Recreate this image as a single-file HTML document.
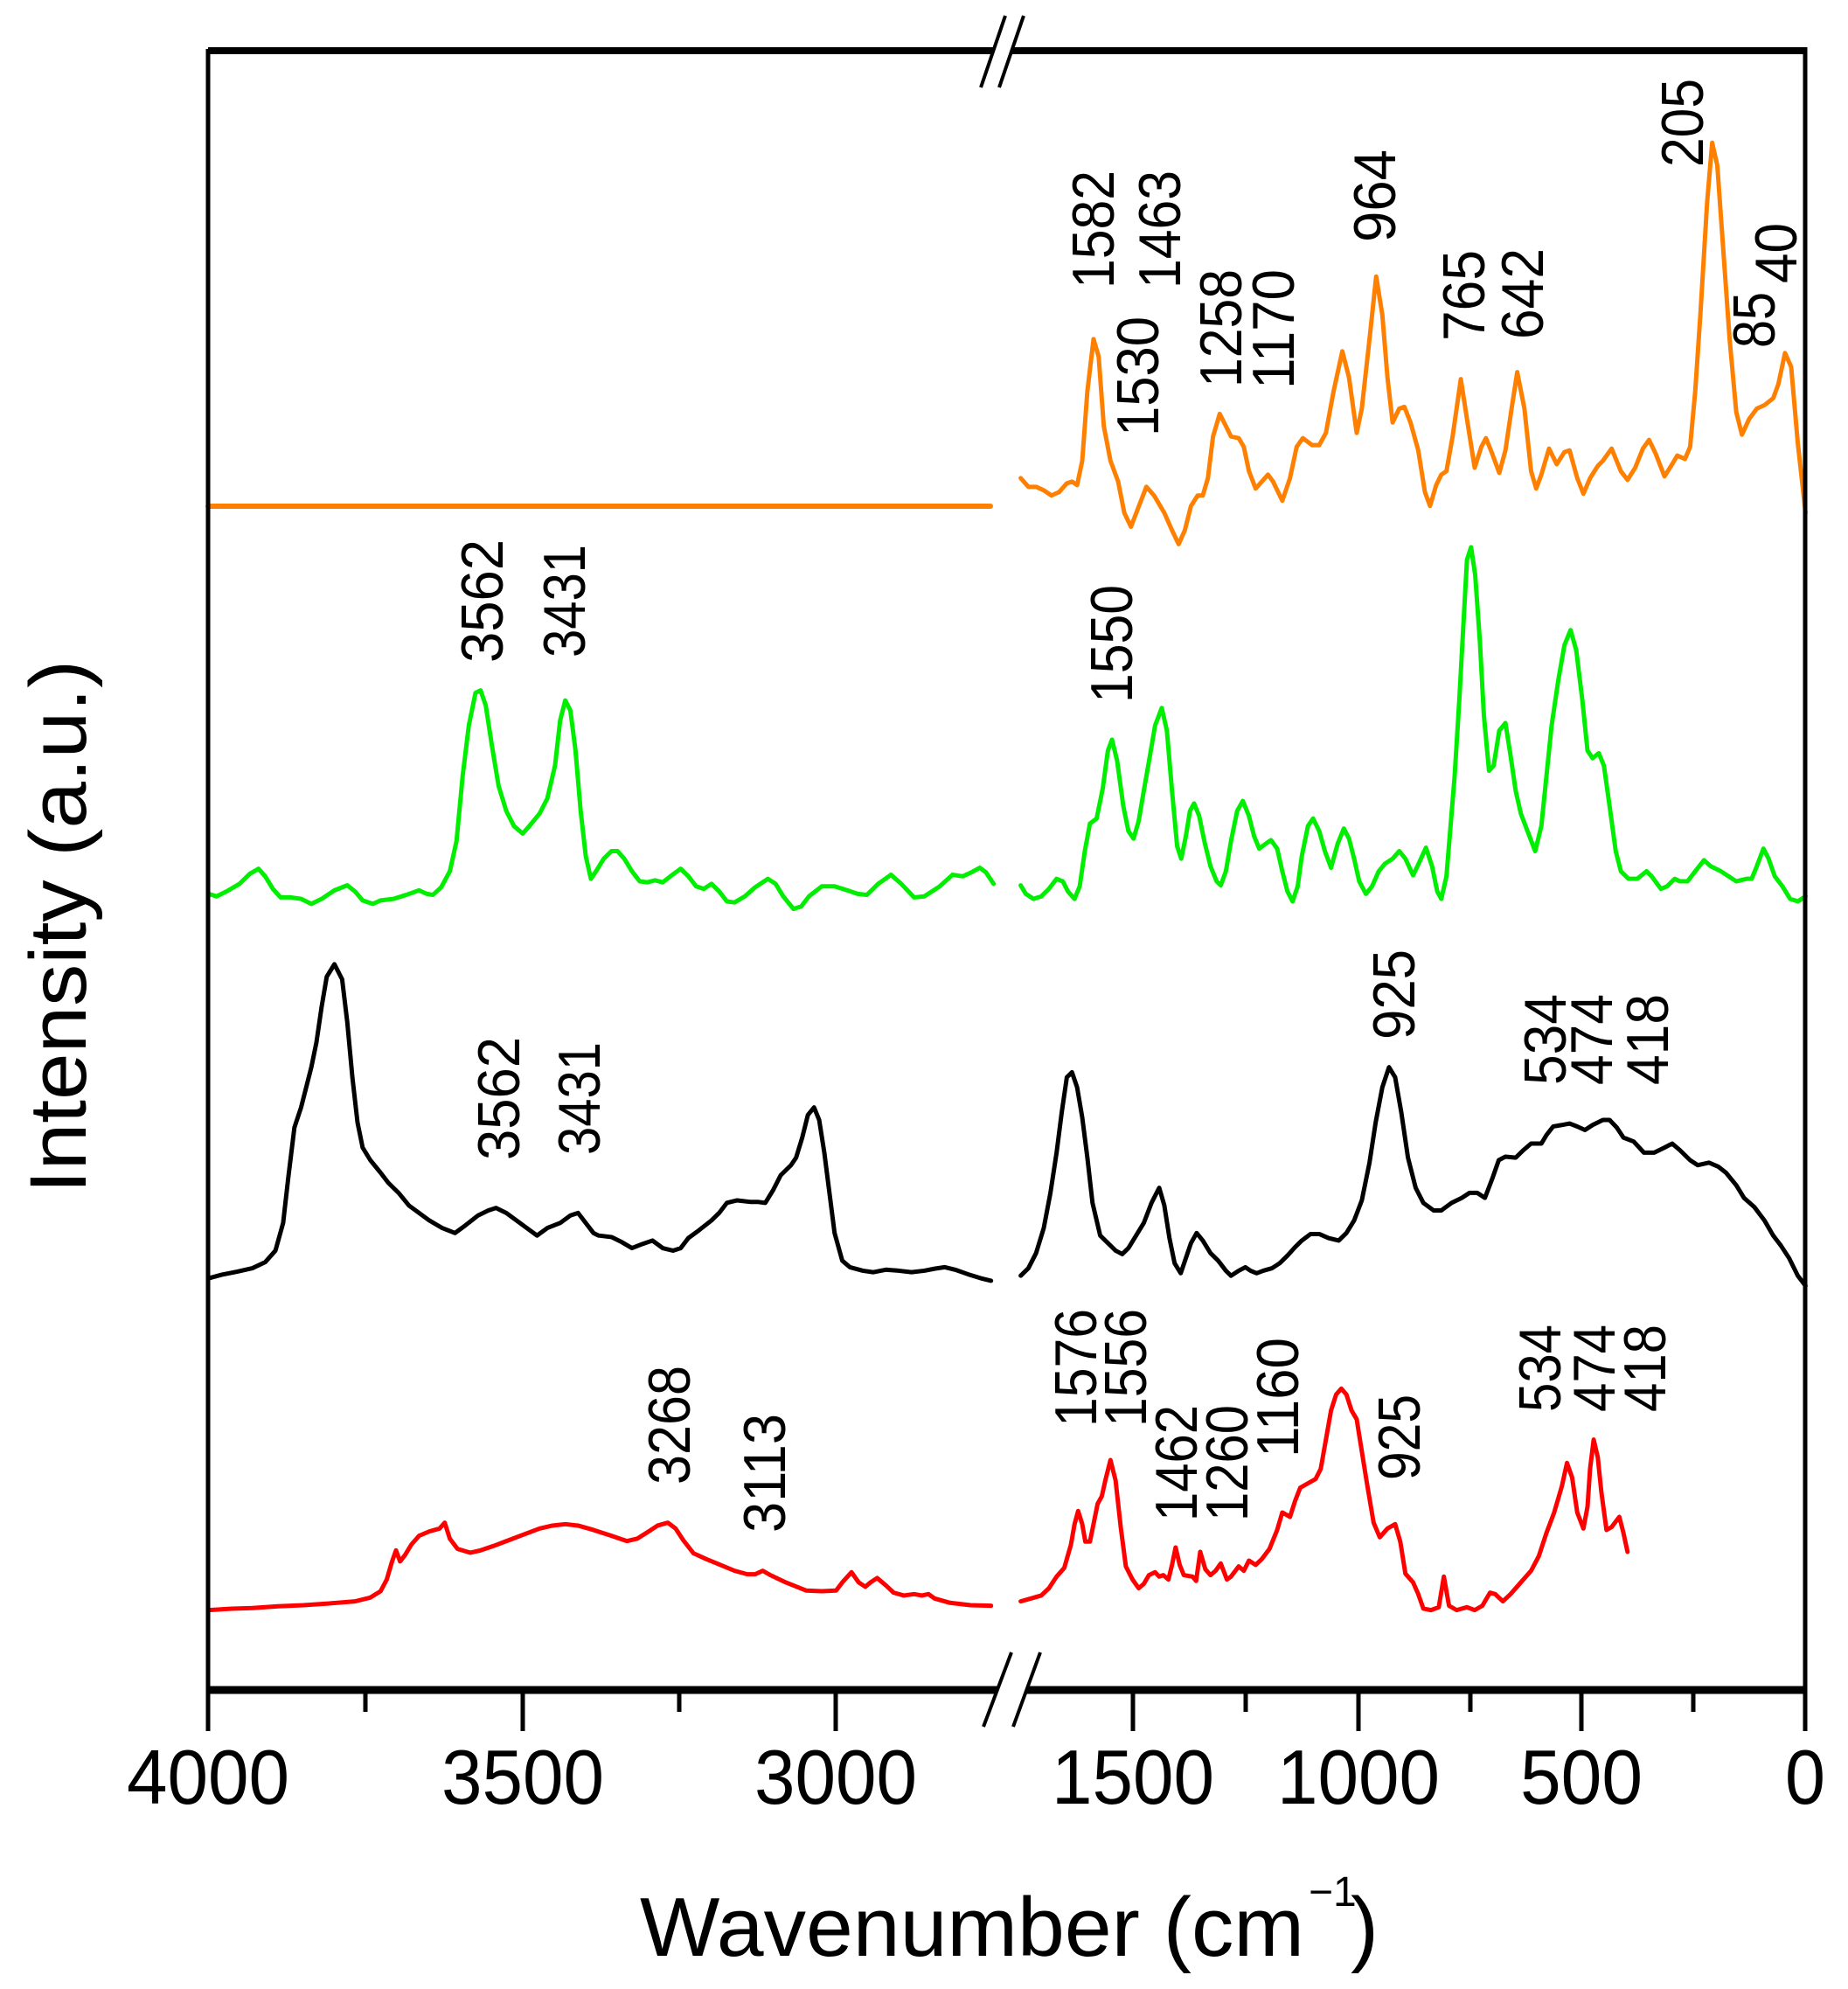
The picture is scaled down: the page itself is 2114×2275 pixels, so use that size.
<!DOCTYPE html>
<html><head><meta charset="utf-8"><style>
html,body{margin:0;padding:0;background:#fff;}
svg{display:block;}
text{font-family:"Liberation Sans",sans-serif;fill:#000;}
</style></head><body>
<svg width="2114" height="2275" viewBox="0 0 2114 2275" xmlns="http://www.w3.org/2000/svg">
<g fill="none" stroke-linejoin="round" stroke-linecap="round">
<!-- orange -->
<line x1="238" y1="579" x2="1133" y2="579" stroke="#ff8000" stroke-width="6"/>
<g transform="translate(1150,50) scale(0.5868,0.3975)">
<polyline vector-effect="non-scaling-stroke" stroke="#ff8000" stroke-width="5" points="30,1250 45,1275 60,1275 75,1285 90,1300 105,1290 120,1265 130,1260 140,1270 150,1200 160,1000 172,850 182,900 192,1100 205,1200 220,1260 232,1350 245,1390 258,1340 275,1275 290,1300 310,1350 325,1400 338,1440 350,1400 362,1330 375,1300 385,1300 395,1250 405,1130 418,1065 430,1100 440,1130 455,1135 465,1160 475,1230 488,1280 500,1260 512,1240 522,1260 540,1315 555,1250 568,1160 580,1135 598,1155 612,1155 625,1120 640,1000 657,885 670,960 685,1120 695,1050 710,850 723,670 735,780 745,960 755,1090 768,1050 778,1045 790,1090 805,1170 818,1290 828,1330 840,1270 850,1240 860,1230 872,1130 888,965 900,1080 915,1220 928,1160 937,1135 948,1175 963,1235 975,1170 987,1050 998,945 1012,1050 1025,1230 1035,1280 1045,1240 1060,1165 1075,1210 1090,1175 1100,1170 1115,1250 1127,1295 1140,1250 1155,1215 1165,1200 1182,1165 1200,1230 1213,1255 1228,1220 1243,1165 1255,1140 1268,1180 1285,1245 1300,1210 1310,1185 1325,1195 1335,1160 1345,1000 1355,780 1368,460 1378,285 1388,350 1400,600 1412,850 1425,1060 1436,1125 1450,1080 1465,1050 1480,1040 1497,1020 1507,980 1520,890 1532,930 1545,1150 1560,1350"/>
</g>
<g transform="translate(230,600) scale(0.5868,0.5747)">
<polyline vector-effect="non-scaling-stroke" stroke="#00ee00" stroke-width="5" points="15,735 30,740 50,730 75,715 95,695 112,685 125,700 140,725 155,742 175,742 195,745 215,755 235,745 260,728 285,718 300,730 315,748 335,755 350,748 375,745 400,737 425,728 440,735 452,737 468,722 485,690 498,630 510,500 522,400 535,335 545,330 555,360 567,440 580,520 595,570 610,600 627,615 640,600 660,575 675,545 690,480 700,390 710,350 720,370 730,450 740,570 750,660 760,705 770,690 785,665 800,650 812,650 825,665 840,690 855,710 870,712 885,708 900,712 915,700 935,685 950,700 965,720 980,725 995,715 1010,730 1025,750 1040,752 1060,740 1080,722 1105,705 1120,715 1135,740 1155,765 1170,760 1185,740 1210,720 1235,720 1260,728 1280,735 1298,737 1320,715 1345,697 1365,715 1390,742 1410,740 1440,720 1465,697 1485,700 1500,693 1518,683 1530,692 1545,715"/>
<polyline vector-effect="non-scaling-stroke" stroke="#000" stroke-width="5" points="15,1500 40,1493 70,1487 100,1480 125,1468 145,1445 160,1390 170,1300 182,1200 195,1160 205,1120 215,1080 225,1030 235,960 245,900 260,875 275,905 285,990 295,1100 305,1190 315,1240 330,1265 350,1290 365,1310 385,1330 405,1355 425,1370 445,1385 470,1400 495,1410 515,1395 540,1375 560,1365 575,1360 595,1370 615,1385 635,1400 655,1415 675,1400 700,1390 720,1375 735,1370 750,1390 765,1410 775,1415 800,1418 820,1428 840,1440 860,1432 880,1425 900,1440 920,1445 935,1440 950,1420 970,1405 995,1385 1010,1370 1025,1350 1045,1345 1070,1348 1085,1348 1100,1350 1115,1325 1130,1295 1150,1275 1160,1260 1172,1220 1183,1175 1195,1160 1205,1185 1215,1250 1225,1330 1235,1410 1250,1465 1265,1478 1290,1485 1310,1488 1335,1483 1360,1485 1385,1488 1410,1485 1430,1481 1450,1478 1470,1483 1495,1492 1520,1500 1540,1505"/>
</g>
<g transform="translate(1150,600) scale(0.5868,0.5747)">
<polyline vector-effect="non-scaling-stroke" stroke="#00ee00" stroke-width="5" points="30,718 40,735 55,745 70,740 85,725 100,705 112,710 122,730 135,745 145,720 155,650 165,595 178,585 190,525 200,450 208,428 218,470 230,560 240,610 250,625 260,590 270,530 282,460 292,400 305,365 315,410 325,530 335,640 343,665 352,620 360,570 368,555 378,580 388,630 400,680 412,710 420,718 430,690 440,630 452,570 463,550 475,580 485,620 495,645 508,635 518,628 530,645 540,690 550,730 560,750 570,720 578,660 590,600 600,585 612,610 623,650 635,683 648,635 660,605 670,625 680,665 690,710 703,735 715,720 728,690 740,675 755,665 768,650 780,665 795,698 808,670 820,643 832,680 842,730 850,745 860,700 868,600 876,500 885,350 893,200 900,70 908,45 916,100 925,230 933,380 943,490 952,480 963,410 975,395 985,460 995,530 1005,575 1018,610 1033,650 1045,600 1055,500 1065,400 1078,310 1090,240 1102,210 1113,250 1125,350 1135,450 1145,465 1157,455 1167,480 1178,560 1190,650 1200,690 1215,705 1232,705 1250,690 1260,700 1278,725 1290,720 1305,705 1315,710 1330,710 1345,690 1362,668 1375,680 1395,690 1410,700 1425,710 1445,705 1455,705 1465,680 1478,645 1488,665 1500,700 1515,720 1530,745 1545,750 1560,740"/>
<polyline vector-effect="non-scaling-stroke" stroke="#000" stroke-width="5" points="30,1495 45,1480 60,1450 75,1400 88,1330 100,1250 110,1170 120,1100 130,1090 140,1120 150,1180 160,1260 170,1350 185,1415 200,1430 215,1445 228,1452 240,1440 255,1415 270,1390 285,1350 300,1320 310,1355 320,1420 330,1470 342,1490 352,1460 362,1430 373,1410 385,1425 400,1450 415,1465 430,1485 440,1495 455,1485 468,1478 478,1485 490,1490 503,1485 520,1480 535,1470 550,1455 565,1438 578,1425 595,1412 612,1412 630,1420 650,1425 665,1410 680,1385 695,1345 710,1270 722,1190 735,1120 748,1080 760,1100 772,1170 785,1260 800,1320 815,1350 835,1365 850,1365 870,1350 890,1340 905,1330 920,1330 935,1340 950,1300 962,1265 975,1258 995,1260 1010,1245 1025,1232 1045,1232 1055,1215 1068,1198 1085,1195 1100,1192 1115,1198 1130,1205 1145,1195 1165,1185 1178,1185 1192,1200 1205,1220 1225,1228 1245,1250 1265,1250 1285,1240 1300,1232 1315,1245 1335,1265 1350,1275 1372,1270 1390,1278 1405,1290 1425,1315 1440,1340 1460,1358 1480,1385 1497,1415 1512,1435 1528,1460 1545,1495 1560,1515"/>
</g>
<g transform="translate(230,1380) scale(0.5868,0.3333)">
<polyline vector-effect="non-scaling-stroke" stroke="#ff0000" stroke-width="5" points="15,1385 60,1380 100,1378 150,1372 200,1368 250,1362 300,1355 330,1342 350,1320 362,1280 372,1220 380,1180 388,1218 398,1195 410,1160 425,1130 445,1115 465,1105 475,1085 485,1140 500,1175 525,1188 545,1180 570,1165 600,1145 630,1125 660,1105 685,1095 710,1090 735,1095 765,1110 800,1130 830,1148 850,1140 870,1118 890,1095 910,1085 925,1105 940,1145 960,1190 985,1210 1010,1228 1040,1250 1065,1262 1080,1262 1095,1250 1110,1265 1140,1290 1180,1318 1210,1320 1238,1318 1250,1290 1268,1255 1282,1290 1295,1305 1305,1290 1318,1275 1335,1300 1350,1325 1370,1335 1390,1330 1405,1335 1418,1330 1430,1345 1460,1360 1500,1368 1540,1370"/>
</g>
<g transform="translate(1150,1380) scale(0.5868,0.3333)">
<polyline vector-effect="non-scaling-stroke" stroke="#ff0000" stroke-width="5" points="30,1355 50,1345 70,1335 85,1310 100,1270 115,1240 128,1160 135,1090 142,1045 150,1090 156,1150 165,1150 172,1090 180,1020 188,995 195,940 205,870 215,940 225,1100 235,1235 248,1280 260,1310 270,1295 280,1265 292,1255 300,1270 308,1265 318,1280 325,1230 332,1170 340,1230 348,1265 365,1270 372,1285 380,1185 390,1245 400,1265 410,1250 420,1225 432,1280 440,1270 455,1235 465,1250 475,1215 488,1230 500,1210 515,1175 530,1110 540,1050 555,1065 565,1010 575,965 590,950 605,935 615,900 625,800 635,700 645,645 655,625 665,645 675,700 685,730 695,840 705,950 718,1085 730,1135 745,1105 760,1090 770,1150 780,1260 795,1290 805,1330 815,1380 830,1385 845,1375 855,1270 865,1370 880,1385 900,1375 915,1385 930,1370 945,1325 955,1330 970,1355 985,1330 1005,1290 1025,1250 1040,1200 1055,1120 1070,1050 1085,960 1095,880 1105,930 1115,1050 1127,1105 1135,1030 1140,900 1147,800 1155,860 1162,980 1172,1110 1182,1100 1197,1065 1205,1120 1213,1185"/>
</g>
</g>

<g stroke="#000" fill="none">
<line x1="238" y1="58" x2="2065" y2="58" stroke-width="8"/>
<line x1="238" y1="1933" x2="2065" y2="1933" stroke-width="9"/>
<line x1="238" y1="56" x2="238" y2="1980" stroke-width="5"/>
<line x1="2065" y1="54" x2="2065" y2="1980" stroke-width="5"/>
<g stroke-width="5">
<line x1="598" y1="1933" x2="598" y2="1980"/><line x1="956" y1="1933" x2="956" y2="1980"/>
<line x1="1296" y1="1933" x2="1296" y2="1980"/><line x1="1554" y1="1933" x2="1554" y2="1980"/>
<line x1="1809" y1="1933" x2="1809" y2="1980"/>
<line x1="418" y1="1933" x2="418" y2="1958"/><line x1="777" y1="1933" x2="777" y2="1958"/>
<line x1="1425" y1="1933" x2="1425" y2="1958"/><line x1="1682" y1="1933" x2="1682" y2="1958"/>
<line x1="1937" y1="1933" x2="1937" y2="1958"/>
</g>
</g>
<polygon points="1122,100 1150,18 1171,18 1143,100" fill="#fff"/>
<polygon points="1125,1975 1157,1890 1190,1890 1159,1975" fill="#fff"/>
<g stroke="#000" stroke-width="4">
<line x1="1122" y1="100" x2="1150" y2="18"/><line x1="1143" y1="100" x2="1171" y2="18"/>
<line x1="1125" y1="1975" x2="1157" y2="1890"/><line x1="1159" y1="1975" x2="1190" y2="1890"/>
</g>

<g font-size="88" text-anchor="middle">
<text x="238" y="2063" textLength="186" lengthAdjust="spacingAndGlyphs">4000</text>
<text x="598" y="2063" textLength="186" lengthAdjust="spacingAndGlyphs">3500</text>
<text x="956" y="2063" textLength="186" lengthAdjust="spacingAndGlyphs">3000</text>
<text x="1296" y="2063" textLength="186" lengthAdjust="spacingAndGlyphs">1500</text>
<text x="1554" y="2063" textLength="186" lengthAdjust="spacingAndGlyphs">1000</text>
<text x="1809" y="2063" textLength="140" lengthAdjust="spacingAndGlyphs">500</text>
<text x="2065" y="2063" textLength="46" lengthAdjust="spacingAndGlyphs">0</text>
</g>
<text x="732" y="2237" font-size="96" textLength="760" lengthAdjust="spacingAndGlyphs">Wavenumber (cm</text>
<text x="1497" y="2180" font-size="48">−1</text>
<text x="1545" y="2237" font-size="96">)</text>
<text transform="translate(98,1365) rotate(-90)" font-size="92" textLength="610" lengthAdjust="spacingAndGlyphs">Intensity (a.u.)</text>

<g font-size="68">
<text transform="translate(1274,330) rotate(-90)" textLength="135" lengthAdjust="spacingAndGlyphs">1582</text>
<text transform="translate(1350,330) rotate(-90)" textLength="135" lengthAdjust="spacingAndGlyphs">1463</text>
<text transform="translate(1325,499) rotate(-90)" textLength="137" lengthAdjust="spacingAndGlyphs">1530</text>
<text transform="translate(1420,443) rotate(-90)" textLength="135" lengthAdjust="spacingAndGlyphs">1258</text>
<text transform="translate(1480,445) rotate(-90)" textLength="137" lengthAdjust="spacingAndGlyphs">1170</text>
<text transform="translate(1596,277) rotate(-90)" textLength="106" lengthAdjust="spacingAndGlyphs">964</text>
<text transform="translate(1698,390) rotate(-90)" textLength="104" lengthAdjust="spacingAndGlyphs">765</text>
<text transform="translate(1765,388) rotate(-90)" textLength="104" lengthAdjust="spacingAndGlyphs">642</text>
<text transform="translate(1948,191) rotate(-90)" textLength="101" lengthAdjust="spacingAndGlyphs">205</text>
<text transform="translate(2030,398) rotate(-90)" textLength="64" lengthAdjust="spacingAndGlyphs">85</text>
<text transform="translate(2055,324) rotate(-90)" textLength="69" lengthAdjust="spacingAndGlyphs">40</text>

<text transform="translate(575,758) rotate(-90)" textLength="141" lengthAdjust="spacingAndGlyphs">3562</text>
<text transform="translate(669,752) rotate(-90)" textLength="129" lengthAdjust="spacingAndGlyphs">3431</text>
<text transform="translate(594,1327) rotate(-90)" textLength="141" lengthAdjust="spacingAndGlyphs">3562</text>
<text transform="translate(686,1321) rotate(-90)" textLength="129" lengthAdjust="spacingAndGlyphs">3431</text>
<text transform="translate(1295,804) rotate(-90)" textLength="135" lengthAdjust="spacingAndGlyphs">1550</text>
<text transform="translate(1618,1189) rotate(-90)" textLength="103" lengthAdjust="spacingAndGlyphs">925</text>
<text transform="translate(1791,1241) rotate(-90)" textLength="104" lengthAdjust="spacingAndGlyphs">534</text>
<text transform="translate(1844,1241) rotate(-90)" textLength="104" lengthAdjust="spacingAndGlyphs">474</text>
<text transform="translate(1908,1241) rotate(-90)" textLength="104" lengthAdjust="spacingAndGlyphs">418</text>

<text transform="translate(789,1698) rotate(-90)" textLength="136" lengthAdjust="spacingAndGlyphs">3268</text>
<text transform="translate(898,1753) rotate(-90)" textLength="136" lengthAdjust="spacingAndGlyphs">3113</text>
<text transform="translate(1254,1632) rotate(-90)" textLength="135" lengthAdjust="spacingAndGlyphs">1576</text>
<text transform="translate(1311,1632) rotate(-90)" textLength="135" lengthAdjust="spacingAndGlyphs">1556</text>
<text transform="translate(1369,1740) rotate(-90)" textLength="133" lengthAdjust="spacingAndGlyphs">1462</text>
<text transform="translate(1427,1740) rotate(-90)" textLength="133" lengthAdjust="spacingAndGlyphs">1260</text>
<text transform="translate(1485,1667) rotate(-90)" textLength="137" lengthAdjust="spacingAndGlyphs">1160</text>
<text transform="translate(1624,1693) rotate(-90)" textLength="98" lengthAdjust="spacingAndGlyphs">925</text>
<text transform="translate(1785,1615) rotate(-90)" textLength="100" lengthAdjust="spacingAndGlyphs">534</text>
<text transform="translate(1847,1615) rotate(-90)" textLength="100" lengthAdjust="spacingAndGlyphs">474</text>
<text transform="translate(1905,1615) rotate(-90)" textLength="100" lengthAdjust="spacingAndGlyphs">418</text>
</g>
</svg>
</body></html>
